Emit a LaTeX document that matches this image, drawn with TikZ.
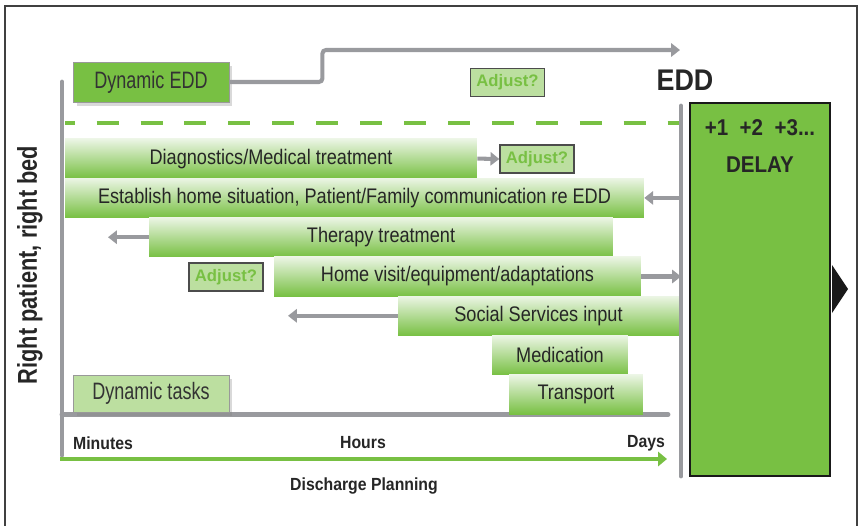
\documentclass[tikz,border=0pt]{standalone}
\usepackage{fontspec}
\setmainfont{Liberation Sans}
\newfontfamily\barfont{Liberation Sans}[FakeStretch=0.86]
\newfontfamily\labfont{Liberation Sans}[FakeStretch=0.9]
\newfontfamily\dynfont{Liberation Sans}[FakeStretch=0.76]
\newfontfamily\sidefont{Liberation Sans}[FakeStretch=0.8]
\usetikzlibrary{arrows.meta}
\usetikzlibrary{shadows}
\usetikzlibrary{positioning}
\usepackage{xcolor}
\definecolor{edgreen}{HTML}{78C043}
\definecolor{lightgreen}{HTML}{BCDFA0}
\definecolor{bargrey}{HTML}{999A9E}
\definecolor{paletop}{HTML}{EBF5E4}

\begin{document}
\begin{tikzpicture}[x=0.02cm, y=-0.02cm,
    bar/.style={rectangle, inner sep=0pt, minimum height=0.786cm, top color=paletop, bottom color=edgreen, text=black!85, font=\barfont\fontsize{12}{14}\selectfont},
    adjust/.style={draw=black!70, line width=0.8pt, fill=lightgreen, minimum width=1.48cm, minimum height=0.56cm, inner sep=0pt, text=edgreen, font=\bfseries\fontsize{9.5}{11}\selectfont},
    dynbox/.style={draw=black!40, line width=0.5pt, minimum width=3.12cm, inner sep=0pt, text=black!80, font=\dynfont\fontsize{13.5}{15}\selectfont, drop shadow={shadow xshift=0.07cm, shadow yshift=-0.07cm, opacity=0.3}},
    greyarrow/.style={draw=bargrey, line width=2.3pt, -{Triangle[length=5pt, width=7.5pt]}},
    axis/.style={draw=bargrey, line width=2.8pt, line cap=round},
    scalelabel/.style={font=\labfont\bfseries\fontsize{10}{12}\selectfont, text=black!85}]
    \useasboundingbox (0,0) rectangle (859,525);
    \draw[black!75, line width=0.9pt] (5,6) rectangle (857,560);

    % axes and time scale
    \draw[axis] (62,82) -- (62,455);
    \draw[axis] (62,414.5) -- (668,414.5);
    \coordinate (planstart) at (60,459);
    \coordinate (planend) at (667,459);
    \draw[edgreen, line width=2.3pt, -{Triangle[length=5pt, width=8pt]}] (planstart) -- (planend);
    \node[scalelabel] (minutes) at (103,443) {Minutes};
    \node[scalelabel] (hours) at (363,443) {Hours};
    \node[scalelabel] (days) at (646,443) {Days};
    \node[scalelabel] (planning) at (364,486) {Discharge Planning};
    \node[rotate=90, font=\sidefont\bfseries\fontsize{15.5}{17}\selectfont, text=black!85] (rightbed) at (30,265) {Right patient, right bed};

    % EDD and delay
    \draw[edgreen, line width=2.8pt, dash pattern=on 12.5pt off 12.5pt, dash phase=7pt] (65,123) -- (680,123);
    \coordinate (eddtop) at (681,106);
    \coordinate (eddbottom) at (681,476);
    \draw[axis] (eddtop) -- (eddbottom);
    \node[font=\labfont\bfseries\fontsize{17}{19}\selectfont, text=black!85] (edd) at (685,80) {EDD};
    \node[draw=black!90, line width=1.6pt, fill=edgreen, minimum width=2.8cm, minimum height=7.46cm, inner sep=0pt] (delay) at (760,289.5) {};
    \node[font=\labfont\bfseries\fontsize{13}{15}\selectfont, text=black!85] (days1) at (760,128) {+1\ \ +2\ \ +3...};
    \node[font=\labfont\bfseries\fontsize{13}{15}\selectfont, text=black!85] (delaytxt) at (760,165) {DELAY};
    \fill[black!90] (832,265) -- (848,289) -- (832,313) -- cycle;

    \node[dynbox, fill=edgreen, minimum height=0.8cm] (dynedd) at (151,82) {Dynamic EDD};
    \coordinate (eddend) at (680,50);
    \draw[greyarrow, rounded corners=2pt] (dynedd.east) -- ++(93,0) |- (eddend);
    \node[adjust] (adjtop) at (507.5,82.5) {Adjust?};

    % tasks
    \node[bar, minimum width=8.24cm] (diag) at (271,158.6) {Diagnostics/Medical treatment};
    \node[bar, minimum width=11.58cm] (establish) at (354.5,197.9) {Establish home situation, Patient/Family communication re EDD};
    \node[bar, minimum width=9.28cm] (therapy) at (381,237.2) {Therapy treatment};
    \node[bar, minimum width=7.34cm] (homevisit) at (457.5,276.5) {Home visit/equipment/adaptations};
    \node[bar, minimum width=5.62cm] (social) at (538.5,315.8) {Social Services input};
    \node[bar, minimum width=2.72cm] (medication) at (560,355.1) {Medication};
    \node[bar, minimum width=2.68cm] (transport) at (576,394.4) {Transport};

    \node[adjust] (adjdiag) at (537,159) {Adjust?};
    \node[adjust] (adjhome) at (226,277) {Adjust?};
    \coordinate (therapyend) at (108,237.2);
    \coordinate (socialend) at (288,315.8);

    \draw[greyarrow] (diag.east) -- (adjdiag.west);
    \draw[greyarrow] (establish.east -| eddtop) -- (establish.east);
    \draw[greyarrow] (therapy.west) -- (therapyend);
    \draw[greyarrow] (homevisit.east) -- (homevisit.east -| eddtop);
    \draw[greyarrow] (social.west) -- (socialend);

    \node[dynbox, fill=lightgreen, minimum height=0.74cm] (dyntasks) at (151,393.5) {Dynamic tasks};
\end{tikzpicture}
\end{document}
